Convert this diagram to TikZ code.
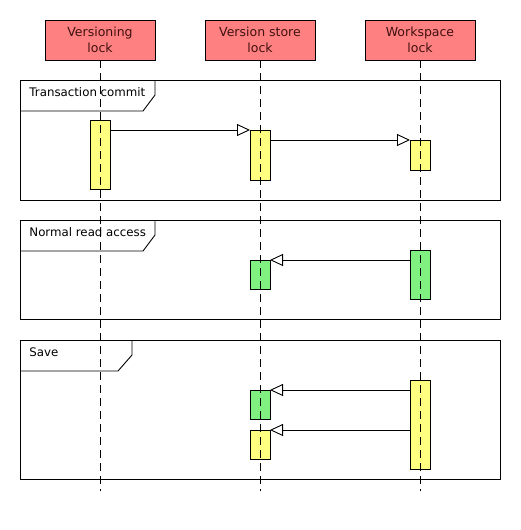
\documentclass[tikz,border=0pt]{standalone}
\usepackage{fontspec}
\setmainfont{DejaVu Sans}
\usetikzlibrary{arrows.meta,positioning}
\definecolor{headred}{RGB}{255,128,128}
\definecolor{headtext}{RGB}{64,16,16}
\definecolor{actyellow}{RGB}{255,255,128}
\definecolor{actgreen}{RGB}{128,240,128}

\begin{document}
\begin{tikzpicture}[x=1pt,y=-1pt,line width=0.9pt,
	head/.style={draw,fill=headred,minimum width=110pt,minimum height=40pt,inner sep=0pt,
		align=center,text=headtext,font=\fontsize{12.5}{16}\selectfont},
	act/.style={draw,minimum width=20pt,inner sep=0pt,outer sep=0pt},
	life/.style={dash pattern=on 8pt off 5pt},
	msg/.style={-{Triangle[open,length=13pt,width=12pt]}},
	fname/.style={anchor=west,inner sep=0pt,font=\fontsize{11.8}{14}\selectfont}]
	
	\useasboundingbox (0,0) rectangle (520,530);
	
	% lock heads
	\node[head] (verlock) at (100,40) {Versioning\\lock};
	\node[head] (storelock) at (260,40) {Version store\\lock};
	\node[head] (wslock) at (420,40) {Workspace\\lock};
	
	% activations
	\node[act,fill=actyellow,minimum height=69pt] (vcommit) at (100,154.5) {};
	\node[act,fill=actyellow,minimum height=50pt] (scommit) at (260,155) {};
	\node[act,fill=actyellow,minimum height=30pt] (wcommit) at (420,155) {};
	\node[act,fill=actgreen,minimum height=49pt] (wread) at (420,274.5) {};
	\node[act,fill=actgreen,minimum height=29pt] (sread) at (260,274.5) {};
	\node[act,fill=actyellow,minimum height=89pt] (wsave) at (420,424.5) {};
	\node[act,fill=actgreen,minimum height=29pt] (ssaveread) at (260,404.5) {};
	\node[act,fill=actyellow,minimum height=29pt] (ssavewrite) at (260,444.5) {};
	
	% lifelines
	\coordinate (verend) at (100,491);
	\coordinate (storeend) at (260,491);
	\coordinate (wsend) at (420,491);
	\draw[life] (verlock.south) -- (verend);
	\draw[life] (storelock.south) -- (storeend);
	\draw[life] (wslock.south) -- (wsend);
	
	% frames
	\draw (20,80) rectangle (500,200);
	\draw (20,111) -- (143,111) -- (155,95) -- (155,80);
	\node[fname] (commitlbl) at (29,92) {Transaction commit};
	
	\draw (20,220) rectangle (500,319);
	\draw (20,251) -- (143,251) -- (155,235) -- (155,220);
	\node[fname] (readlbl) at (29,232) {Normal read access};
	
	\draw (20,340) rectangle (500,479);
	\draw (20,371) -- (118,371) -- (132,355) -- (132,340);
	\node[fname] (savelbl) at (29,352) {Save};
	
	% messages
	\draw[msg] (vcommit.east |- scommit.north west) -- (scommit.north west);
	\draw[msg] (scommit.east |- wcommit.north west) -- (wcommit.north west);
	\draw[msg] (wread.west |- sread.north east) -- (sread.north east);
	\draw[msg] (wsave.west |- ssaveread.north east) -- (ssaveread.north east);
	\draw[msg] (wsave.west |- ssavewrite.north east) -- (ssavewrite.north east);
	
\end{tikzpicture}
\end{document}
